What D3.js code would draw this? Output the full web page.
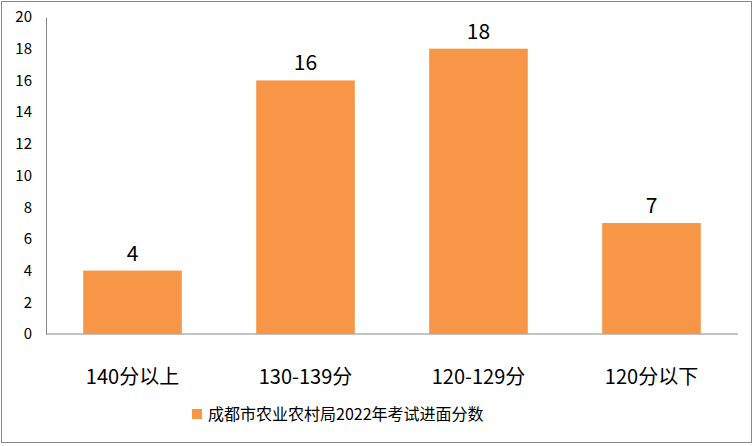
<!DOCTYPE html>
<html><head><meta charset="utf-8">
<script src="https://cdn.jsdelivr.net/npm/d3@7"></script>
<style>body{margin:0;background:#fff}text{font-family:"Noto Sans CJK SC","Liberation Sans",sans-serif}</style>
</head><body><svg></svg>
<script>
const categories = ["140分以上", "130-139分", "120-129分", "120分以下"];
const values = [4, 16, 18, 7];
const yTicks = [0, 2, 4, 6, 8, 10, 12, 14, 16, 18, 20];
const seriesName = "成都市农业农村局2022年考试进面分数";

const w = 755, h = 446;
const svg = d3.select("svg").attr("width", w).attr("height", h);
svg.append("rect").attr("x", 1.5).attr("y", 1.5).attr("width", w - 5).attr("height", h - 5)
  .attr("fill", "#fff").attr("stroke", "#888").attr("stroke-width", 1);

const x = d3.scaleBand().domain(categories).range([46, 738]).paddingInner(0.43).paddingOuter(0.215);
const y = d3.scaleLinear().domain([0, 20]).range([334, 17]);

svg.append("g").attr("transform", "translate(46,0)")
  .call(d3.axisLeft(y).tickValues(yTicks).tickSize(0).tickPadding(14))
  .call(g => g.select(".domain").attr("stroke", "#888"))
  .call(g => g.selectAll("text").attr("font-size", 15).attr("fill", "#000").attr("font-family", "Liberation Sans, sans-serif"));

svg.append("line").attr("x1", 46).attr("x2", 738).attr("y1", 334).attr("y2", 334).attr("stroke", "#888");

svg.selectAll(".bar").data(values).enter().append("rect")
  .attr("x", (d, i) => x(categories[i])).attr("width", x.bandwidth())
  .attr("y", d => y(d)).attr("height", d => y(0) - y(d)).attr("fill", "#f79646");

svg.selectAll(".lbl").data(values).enter().append("text")
  .attr("x", (d, i) => x(categories[i]) + x.bandwidth() / 2).attr("y", d => y(d) - 10)
  .attr("text-anchor", "middle").attr("font-size", 21).attr("font-family", "Liberation Sans, sans-serif").text(d => d);

svg.selectAll(".cat").data(categories).enter().append("text")
  .attr("x", d => x(d) + x.bandwidth() / 2).attr("y", 384)
  .attr("text-anchor", "middle").attr("font-size", 20).text(d => d);

svg.append("rect").attr("x", 192).attr("y", 409).attr("width", 10).attr("height", 10).attr("fill", "#f79646");
svg.append("text").attr("x", 208).attr("y", 420).attr("font-size", 16).text(seriesName);
</script></body></html>
